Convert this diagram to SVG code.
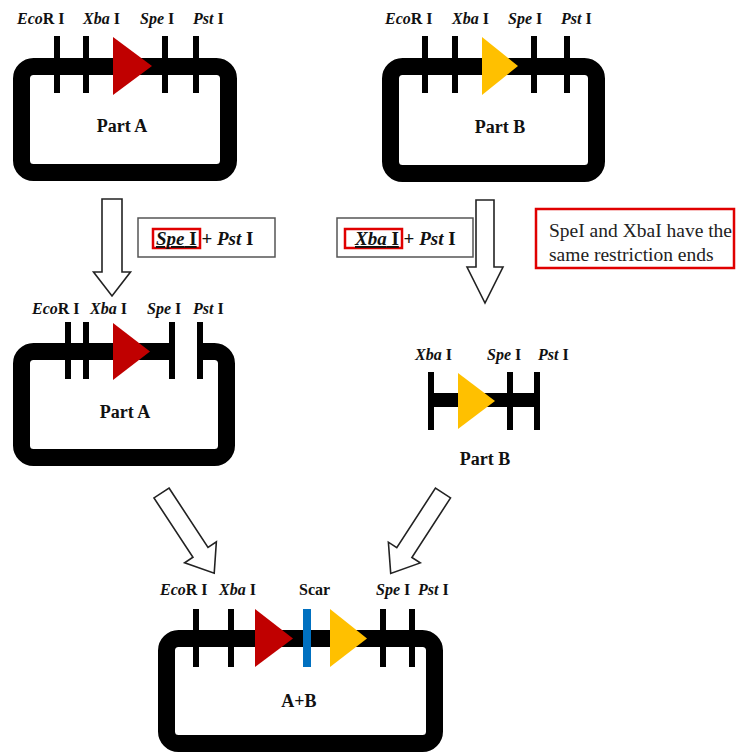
<svg xmlns="http://www.w3.org/2000/svg" width="736" height="754" viewBox="0 0 736 754">
<style>
.bg{fill:#fff}
.plasmid{fill:none;stroke:#000;stroke-width:17}
.tick{fill:#000}
.red{fill:#C00000}
.yel{fill:#FFC000}
.scar{fill:#0070C0}
.lab{font-family:"Liberation Serif",serif;font-weight:bold;font-size:16px;fill:#111}
.name{font-family:"Liberation Serif",serif;font-weight:bold;font-size:18px;fill:#111}
.enz{font-family:"Liberation Serif",serif;font-weight:bold;font-size:19px;fill:#111}
.i{font-style:italic}
.ebox{fill:#fff;stroke:#555;stroke-width:1.5}
.rbox{fill:none;stroke:#E00000;stroke-width:2.5}
.note{font-family:"Liberation Serif",serif;font-size:19.5px;fill:#222}
.barrow{fill:#fff;stroke:#222;stroke-width:1.6;stroke-linejoin:miter}
</style>
<rect class="bg" x="0" y="0" width="736" height="754"/>

<g id="partA1">
<rect class="plasmid" x="21.5" y="66.5" width="207" height="106" rx="12"/>
<rect class="tick" x="54" y="36" width="6" height="57"/>
<rect class="tick" x="83" y="36" width="6" height="57"/>
<rect class="tick" x="162" y="36" width="6" height="57"/>
<rect class="tick" x="193" y="36" width="6" height="57"/>
<polygon class="red" points="113,37 113,95 152,66"/>
<text class="lab" x="17" y="24"><tspan class="i">Eco</tspan>R I</text>
<text class="lab" x="83" y="24"><tspan class="i">Xba</tspan> I</text>
<text class="lab" x="140" y="24"><tspan class="i">Spe</tspan> I</text>
<text class="lab" x="193" y="24"><tspan class="i">Pst</tspan> I</text>
<text class="name" x="122" y="132" text-anchor="middle">Part A</text>
</g>

<g id="partB1">
<rect class="plasmid" x="390.5" y="66.5" width="206" height="107" rx="12"/>
<rect class="tick" x="422" y="36" width="6" height="57"/>
<rect class="tick" x="452" y="36" width="6" height="57"/>
<rect class="tick" x="531" y="36" width="6" height="57"/>
<rect class="tick" x="564" y="36" width="6" height="57"/>
<polygon class="yel" points="482,37 482,95 518,66"/>
<text class="lab" x="385" y="24"><tspan class="i">Eco</tspan>R I</text>
<text class="lab" x="452" y="24"><tspan class="i">Xba</tspan> I</text>
<text class="lab" x="508" y="24"><tspan class="i">Spe</tspan> I</text>
<text class="lab" x="561" y="24"><tspan class="i">Pst</tspan> I</text>
<text class="name" x="500" y="133" text-anchor="middle">Part B</text>
</g>

<g id="digestA">
<rect class="ebox" x="138" y="218" width="137" height="39"/>
<rect class="rbox" x="153" y="229" width="47" height="19"/>
<text class="enz" x="156" y="245"><tspan class="i" text-decoration="underline">Spe</tspan><tspan text-decoration="underline"> I</tspan> + <tspan class="i">Pst</tspan> I</text>
</g>

<g id="digestB">
<rect class="ebox" x="337" y="218" width="136" height="39"/>
<rect class="rbox" x="345" y="229" width="57" height="19"/>
<text class="enz" x="355" y="245"><tspan class="i" text-decoration="underline">Xba</tspan><tspan text-decoration="underline"> I</tspan> + <tspan class="i">Pst</tspan> I</text>
</g>

<g id="note">
<rect x="536" y="209" width="198" height="59" fill="#fff" stroke="#E00000" stroke-width="2.5"/>
<text class="note" x="549" y="237">SpeI and XbaI have the</text>
<text class="note" x="549" y="261">same restriction ends</text>
</g>

<g id="partA2">
<path class="plasmid" d="M172,351.5 H33.5 A12,12 0 0 0 21.5,363.5 V445.5 A12,12 0 0 0 33.5,457.5 H214.5 A12,12 0 0 0 226.5,445.5 V363.5 A12,12 0 0 0 214.5,351.5 H200"/>
<rect class="tick" x="65" y="322" width="6" height="57"/>
<rect class="tick" x="83" y="322" width="6" height="57"/>
<rect class="tick" x="169" y="322" width="6" height="57"/>
<rect class="tick" x="197" y="322" width="6" height="57"/>
<polygon class="red" points="113,323 113,380 150,351.5"/>
<text class="lab" x="32" y="314"><tspan class="i">Eco</tspan>R I</text>
<text class="lab" x="90" y="314"><tspan class="i">Xba</tspan> I</text>
<text class="lab" x="147" y="314"><tspan class="i">Spe</tspan> I</text>
<text class="lab" x="193" y="314"><tspan class="i">Pst</tspan> I</text>
<text class="name" x="125" y="418" text-anchor="middle">Part A</text>
</g>

<g id="partB2">
<rect class="tick" x="431" y="393" width="106" height="14"/>
<rect class="tick" x="428" y="372" width="6" height="58"/>
<rect class="tick" x="507" y="372" width="6" height="58"/>
<rect class="tick" x="534" y="372" width="6" height="58"/>
<polygon class="yel" points="458,373 458,429 495,401"/>
<text class="lab" x="415" y="360"><tspan class="i">Xba</tspan> I</text>
<text class="lab" x="487" y="360"><tspan class="i">Spe</tspan> I</text>
<text class="lab" x="538" y="360"><tspan class="i">Pst</tspan> I</text>
<text class="name" x="485" y="465" text-anchor="middle">Part B</text>
</g>

<g id="partAB">
<rect class="plasmid" x="166.5" y="638.5" width="268" height="105" rx="12"/>
<rect class="tick" x="193" y="609" width="6" height="58"/>
<rect class="tick" x="228" y="609" width="6" height="58"/>
<rect class="tick" x="380" y="609" width="6" height="58"/>
<rect class="tick" x="409" y="609" width="6" height="58"/>
<rect class="scar" x="303" y="609" width="8" height="58"/>
<polygon class="red" points="255,609 255,667 293,638.5"/>
<polygon class="yel" points="330,609 330,667 367,638.5"/>
<text class="lab" x="160" y="595"><tspan class="i">Eco</tspan>R I</text>
<text class="lab" x="219" y="595"><tspan class="i">Xba</tspan> I</text>
<text class="lab" x="299" y="595">Scar</text>
<text class="lab" x="376" y="595"><tspan class="i">Spe</tspan> I</text>
<text class="lab" x="418" y="595"><tspan class="i">Pst</tspan> I</text>
<text class="name" x="299" y="707" text-anchor="middle">A+B</text>
</g>

<g id="connectors">
<polygon class="barrow" points="102,199 122,199 122,272 130.5,272 112,296 93.5,272 102,272"/>
<polygon class="barrow" points="476,200 494,200 494,267 503,267 485,303 467,267 476,267"/>
<polygon class="barrow" transform="translate(161.5,493) rotate(56.7)" points="0,-9 71,-9 71,-19 96,0 71,19 71,9 0,9"/>
<polygon class="barrow" transform="translate(443,493) rotate(123)" points="0,-9 71,-9 71,-19 96,0 71,19 71,9 0,9"/>
</g>
</svg>
